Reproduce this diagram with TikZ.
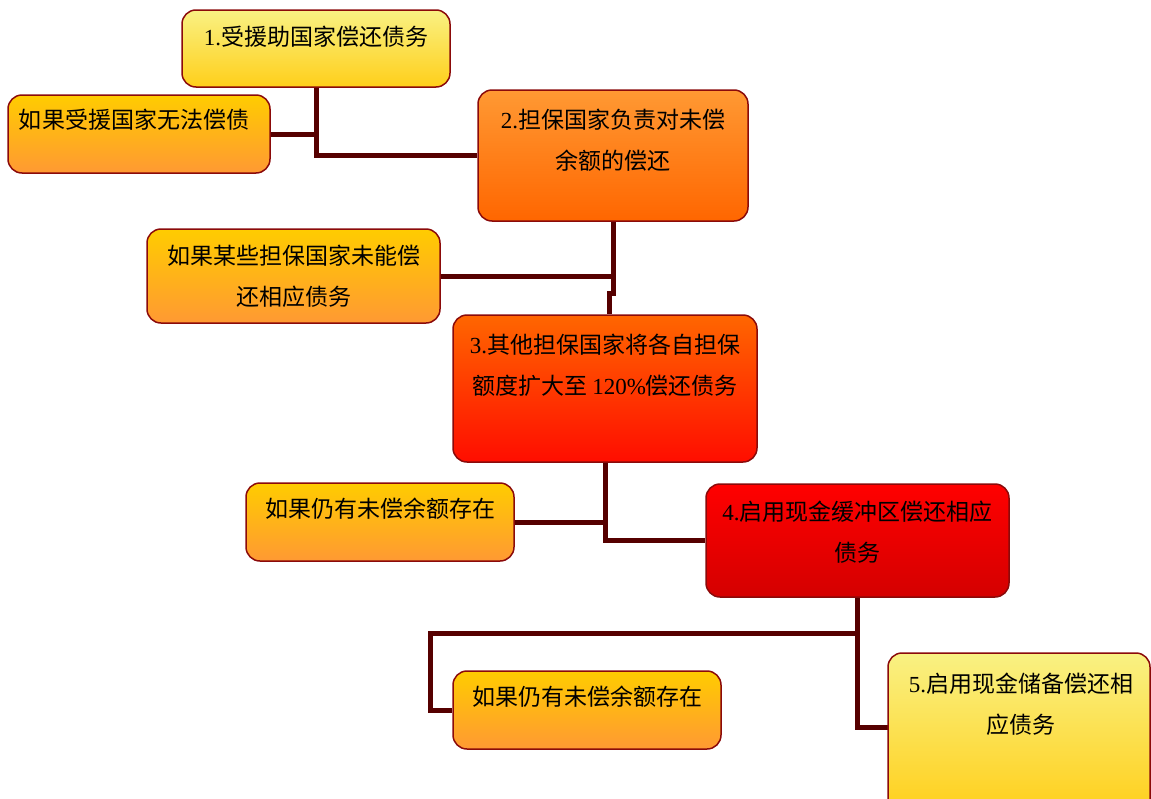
\documentclass[tikz,border=0pt]{standalone}
\usepackage{fontspec}
\setmainfont{Liberation Serif}
\newfontfamily\cjk{Noto Sans CJK SC}
\newcommand\zh[1]{{\cjk #1}}
\definecolor{conncol}{HTML}{560000}
\definecolor{bordercol}{HTML}{8B0A0A}
\definecolor{ylwtop}{HTML}{F9F183}
\definecolor{ylwbot}{HTML}{FFCF1A}
\definecolor{orgtop}{HTML}{FFCC00}
\definecolor{orgbot}{HTML}{FF9933}
\definecolor{twotop}{HTML}{FF9933}
\definecolor{twobot}{HTML}{FF6600}
\definecolor{thrtop}{HTML}{FF6600}
\definecolor{thrbot}{HTML}{FF0D00}
\definecolor{fourtop}{HTML}{FF0000}
\definecolor{fourbot}{HTML}{D40000}
\pgfdeclarelayer{bg}
\pgfsetlayers{bg,main}
\begin{document}
\begin{tikzpicture}[x=1pt,y=-1pt,
  box/.style={draw=bordercol, line width=1.5pt, rounded corners=14pt, inner sep=0pt},
  ylw/.style={top color=ylwtop, bottom color=ylwbot},
  org/.style={top color=orgtop, bottom color=orgbot},
  two/.style={top color=twotop, bottom color=twobot},
  thr/.style={top color=thrtop, bottom color=thrbot},
  four/.style={top color=fourtop, bottom color=fourbot},
  txt/.style={anchor=north, inner sep=0pt, align=center, font=\fontsize{23}{41}\selectfont, text=black},
  conn/.style={draw=conncol, line width=5pt, line join=miter}]
\useasboundingbox (0,0) rectangle (1151,798);
\begin{scope}
\clip (0,0) rectangle (1151,798);
% boxes
\node[box,ylw,minimum width=268pt,minimum height=77pt] (b1) at (316,48.5) {};
\node[box,org,minimum width=262pt,minimum height=78pt] (bA) at (139,134) {};
\node[box,two,minimum width=270pt,minimum height=131pt] (b2) at (613,155.5) {};
\node[box,org,minimum width=293pt,minimum height=94pt] (bB) at (293.5,276) {};
\node[box,thr,minimum width=304pt,minimum height=147pt] (b3) at (605,388.5) {};
\node[box,org,minimum width=268pt,minimum height=78pt] (bC) at (380,522) {};
\node[box,four,minimum width=303pt,minimum height=113pt] (b4) at (857.5,540.5) {};
\node[box,org,minimum width=268pt,minimum height=78pt] (bD) at (587,710) {};
\node[box,ylw,minimum width=262pt,minimum height=162pt] (b5) at (1019,734) {};
% texts
\node[txt] (t1) at (316,26) {1.\zh{受援助国家偿还债务}};
\node[txt] (tA) at (134,109) {\zh{如果受援国家无法偿债}};
\node[txt] (t2) at (613,109) {2.\zh{担保国家负责对未偿}\\\zh{余额的偿还}};
\node[txt] (tB) at (293.5,245) {\zh{如果某些担保国家未能偿}\\\zh{还相应债务}};
\node[txt] (t3) at (605,334) {3.\zh{其他担保国家将各自担保}\\\zh{额度扩大至 }120\%\zh{偿还债务}};
\node[txt] (tC) at (380,498) {\zh{如果仍有未偿余额存在}};
\node[txt] (t4) at (857.5,501) {4.\zh{启用现金缓冲区偿还相应}\\\zh{债务}};
\node[txt] (tD) at (587,686) {\zh{如果仍有未偿余额存在}};
\node[txt] (t5) at (1021,673) {5.\zh{启用现金储备偿还相}\\\zh{应债务}};
% connectors (behind the boxes)
\begin{pgfonlayer}{bg}
\coordinate (j1) at (609,293);
\coordinate (k4) at (857.5,633);
\coordinate (dc) at (430,710);
\coordinate (k5) at (888,727);
\draw[conn] (b1.south) |- (b2.west);
\draw[conn] (bA.east) -- (bA.east -| b1.south);
\draw[conn] (b2.south) |- (j1) -- (j1 |- b3.north);
\draw[conn] (bB.east) -- (bB.east -| b2.south);
\draw[conn] (b3.south) |- (b4.west);
\draw[conn] (bC.east) -- (bC.east -| b3.south);
\draw[conn] (b4.south) |- (k5);
\draw[conn] (k4) -| (dc) -- (bD.west);
\end{pgfonlayer}
\end{scope}
\end{tikzpicture}
\end{document}
